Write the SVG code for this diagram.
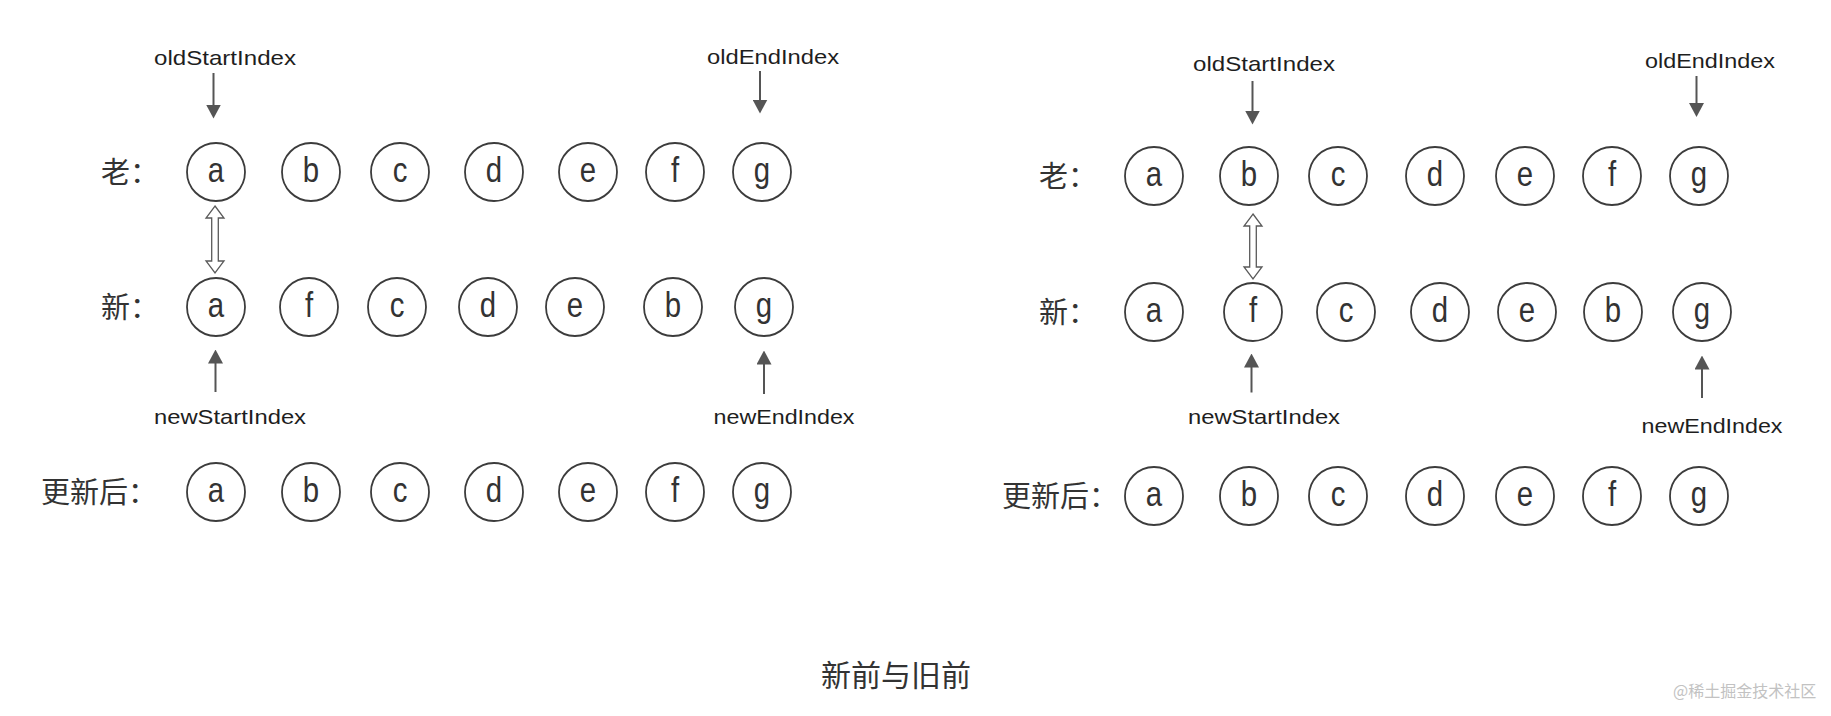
<svg xmlns="http://www.w3.org/2000/svg" width="1831" height="716" viewBox="0 0 1831 716">
<style>
.bg{fill:#ffffff}
.node circle{fill:#ffffff;stroke:#3c3c3c;stroke-width:1.8}
.node text{font-family:"Liberation Sans",Arial,sans-serif;font-size:35px;fill:#333333;text-anchor:middle;transform-box:fill-box;transform-origin:center;transform:scaleX(0.84)}
.lbl{font-family:"Noto Sans CJK SC","Noto Sans",sans-serif;font-size:29px;fill:#333333}
.idx{font-family:"Liberation Sans",Arial,sans-serif;font-size:21px;fill:#1e1e1e;text-anchor:middle}
.arr{stroke:#555555;stroke-width:2;fill:none}
.dbl{fill:#ffffff;stroke:#5a5a5a;stroke-width:1.3;stroke-linejoin:miter}
.cap{font-family:"Noto Sans CJK SC","Noto Sans",sans-serif;font-size:30px;fill:#333333;text-anchor:middle}
.wm{font-family:"Noto Sans CJK SC","Noto Sans",sans-serif;font-size:16px;fill:#c2c2c2}
</style>
<defs>
<marker id="ah" markerUnits="userSpaceOnUse" markerWidth="14" markerHeight="15" viewBox="0 0 14 15" refX="0.5" refY="7.5" orient="auto">
<path d="M0,0 L14,7.5 L0,15 Z" fill="#555555"/>
</marker>
</defs>
<rect class="bg" x="0" y="0" width="1831" height="716"/>

<!-- Left panel row labels -->
<g id="L-label-old"><text class="lbl" x="101" y="183">老：</text></g>
<g id="L-label-new"><text class="lbl" x="101" y="318">新：</text></g>
<g id="L-label-upd"><text class="lbl" x="41" y="503">更新后：</text></g>

<!-- Left panel old row -->
<g id="L-old-a" class="node"><circle cx="216" cy="172" r="29"/><text x="216" y="182">a</text></g>
<g id="L-old-b" class="node"><circle cx="311" cy="172" r="29"/><text x="311" y="182">b</text></g>
<g id="L-old-c" class="node"><circle cx="400" cy="172" r="29"/><text x="400" y="182">c</text></g>
<g id="L-old-d" class="node"><circle cx="494" cy="172" r="29"/><text x="494" y="182">d</text></g>
<g id="L-old-e" class="node"><circle cx="588" cy="172" r="29"/><text x="588" y="182">e</text></g>
<g id="L-old-f" class="node"><circle cx="675" cy="172" r="29"/><text x="675" y="182">f</text></g>
<g id="L-old-g" class="node"><circle cx="762" cy="172" r="29"/><text x="762" y="182">g</text></g>

<!-- Left panel new row -->
<g id="L-new-a" class="node"><circle cx="216" cy="307" r="29"/><text x="216" y="317">a</text></g>
<g id="L-new-f" class="node"><circle cx="309" cy="307" r="29"/><text x="309" y="317">f</text></g>
<g id="L-new-c" class="node"><circle cx="397" cy="307" r="29"/><text x="397" y="317">c</text></g>
<g id="L-new-d" class="node"><circle cx="488" cy="307" r="29"/><text x="488" y="317">d</text></g>
<g id="L-new-e" class="node"><circle cx="575" cy="307" r="29"/><text x="575" y="317">e</text></g>
<g id="L-new-b" class="node"><circle cx="673" cy="307" r="29"/><text x="673" y="317">b</text></g>
<g id="L-new-g" class="node"><circle cx="764" cy="307" r="29"/><text x="764" y="317">g</text></g>

<!-- Left panel updated row -->
<g id="L-upd-a" class="node"><circle cx="216" cy="492" r="29"/><text x="216" y="502">a</text></g>
<g id="L-upd-b" class="node"><circle cx="311" cy="492" r="29"/><text x="311" y="502">b</text></g>
<g id="L-upd-c" class="node"><circle cx="400" cy="492" r="29"/><text x="400" y="502">c</text></g>
<g id="L-upd-d" class="node"><circle cx="494" cy="492" r="29"/><text x="494" y="502">d</text></g>
<g id="L-upd-e" class="node"><circle cx="588" cy="492" r="29"/><text x="588" y="502">e</text></g>
<g id="L-upd-f" class="node"><circle cx="675" cy="492" r="29"/><text x="675" y="502">f</text></g>
<g id="L-upd-g" class="node"><circle cx="762" cy="492" r="29"/><text x="762" y="502">g</text></g>

<!-- Left panel index labels -->
<g id="L-oldStartIndex"><text class="idx" x="225" y="65" textLength="142" lengthAdjust="spacingAndGlyphs">oldStartIndex</text></g>
<g id="L-oldEndIndex"><text class="idx" x="773" y="64" textLength="132" lengthAdjust="spacingAndGlyphs">oldEndIndex</text></g>
<g id="L-newStartIndex"><text class="idx" x="230" y="424" textLength="152" lengthAdjust="spacingAndGlyphs">newStartIndex</text></g>
<g id="L-newEndIndex"><text class="idx" x="784" y="424" textLength="141" lengthAdjust="spacingAndGlyphs">newEndIndex</text></g>

<!-- Right panel row labels -->
<g id="R-label-old"><text class="lbl" x="1039" y="187">老：</text></g>
<g id="R-label-new"><text class="lbl" x="1039" y="323">新：</text></g>
<g id="R-label-upd"><text class="lbl" x="1002" y="507">更新后：</text></g>

<!-- Right panel old row -->
<g id="R-old-a" class="node"><circle cx="1154" cy="176" r="29"/><text x="1154" y="186">a</text></g>
<g id="R-old-b" class="node"><circle cx="1249" cy="176" r="29"/><text x="1249" y="186">b</text></g>
<g id="R-old-c" class="node"><circle cx="1338" cy="176" r="29"/><text x="1338" y="186">c</text></g>
<g id="R-old-d" class="node"><circle cx="1435" cy="176" r="29"/><text x="1435" y="186">d</text></g>
<g id="R-old-e" class="node"><circle cx="1525" cy="176" r="29"/><text x="1525" y="186">e</text></g>
<g id="R-old-f" class="node"><circle cx="1612" cy="176" r="29"/><text x="1612" y="186">f</text></g>
<g id="R-old-g" class="node"><circle cx="1699" cy="176" r="29"/><text x="1699" y="186">g</text></g>

<!-- Right panel new row -->
<g id="R-new-a" class="node"><circle cx="1154" cy="312" r="29"/><text x="1154" y="322">a</text></g>
<g id="R-new-f" class="node"><circle cx="1253" cy="312" r="29"/><text x="1253" y="322">f</text></g>
<g id="R-new-c" class="node"><circle cx="1346" cy="312" r="29"/><text x="1346" y="322">c</text></g>
<g id="R-new-d" class="node"><circle cx="1440" cy="312" r="29"/><text x="1440" y="322">d</text></g>
<g id="R-new-e" class="node"><circle cx="1527" cy="312" r="29"/><text x="1527" y="322">e</text></g>
<g id="R-new-b" class="node"><circle cx="1613" cy="312" r="29"/><text x="1613" y="322">b</text></g>
<g id="R-new-g" class="node"><circle cx="1702" cy="312" r="29"/><text x="1702" y="322">g</text></g>

<!-- Right panel updated row -->
<g id="R-upd-a" class="node"><circle cx="1154" cy="496" r="29"/><text x="1154" y="506">a</text></g>
<g id="R-upd-b" class="node"><circle cx="1249" cy="496" r="29"/><text x="1249" y="506">b</text></g>
<g id="R-upd-c" class="node"><circle cx="1338" cy="496" r="29"/><text x="1338" y="506">c</text></g>
<g id="R-upd-d" class="node"><circle cx="1435" cy="496" r="29"/><text x="1435" y="506">d</text></g>
<g id="R-upd-e" class="node"><circle cx="1525" cy="496" r="29"/><text x="1525" y="506">e</text></g>
<g id="R-upd-f" class="node"><circle cx="1612" cy="496" r="29"/><text x="1612" y="506">f</text></g>
<g id="R-upd-g" class="node"><circle cx="1699" cy="496" r="29"/><text x="1699" y="506">g</text></g>

<!-- Right panel index labels -->
<g id="R-oldStartIndex"><text class="idx" x="1264" y="71" textLength="142" lengthAdjust="spacingAndGlyphs">oldStartIndex</text></g>
<g id="R-oldEndIndex"><text class="idx" x="1710" y="68" textLength="130" lengthAdjust="spacingAndGlyphs">oldEndIndex</text></g>
<g id="R-newStartIndex"><text class="idx" x="1264" y="424" textLength="152" lengthAdjust="spacingAndGlyphs">newStartIndex</text></g>
<g id="R-newEndIndex"><text class="idx" x="1712" y="433" textLength="141" lengthAdjust="spacingAndGlyphs">newEndIndex</text></g>

<!-- Connectors -->
<g id="connectors">
<line class="arr" x1="213.5" y1="73" x2="213.5" y2="105" marker-end="url(#ah)"/>
<line class="arr" x1="760" y1="71" x2="760" y2="100" marker-end="url(#ah)"/>
<line class="arr" x1="215.5" y1="392" x2="215.5" y2="363" marker-end="url(#ah)"/>
<line class="arr" x1="764" y1="394" x2="764" y2="364" marker-end="url(#ah)"/>
<polygon class="dbl" points="215,206 224,218 218.3,218 218.3,261 224,261 215,273 206,261 211.7,261 211.7,218 206,218"/>

<line class="arr" x1="1252.5" y1="81" x2="1252.5" y2="111" marker-end="url(#ah)"/>
<line class="arr" x1="1696.5" y1="76" x2="1696.5" y2="103.5" marker-end="url(#ah)"/>
<line class="arr" x1="1251.5" y1="392.5" x2="1251.5" y2="367" marker-end="url(#ah)"/>
<line class="arr" x1="1702" y1="398" x2="1702" y2="369" marker-end="url(#ah)"/>
<polygon class="dbl" points="1253,214 1262,226 1256.3,226 1256.3,267 1262,267 1253,279 1244,267 1249.7,267 1249.7,226 1244,226"/>
</g>

<!-- Caption and watermark -->
<g id="caption"><text class="cap" x="896" y="686">新前与旧前</text></g>
<g id="watermark"><text class="wm" x="1673" y="697">@稀土掘金技术社区</text></g>
</svg>
